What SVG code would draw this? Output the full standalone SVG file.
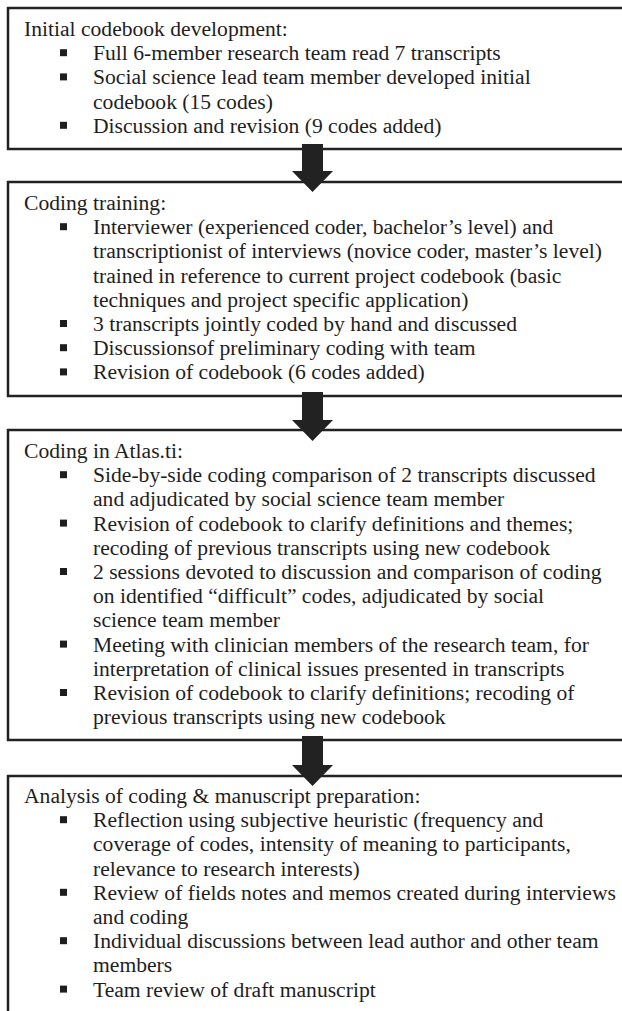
<svg xmlns="http://www.w3.org/2000/svg" width="622" height="1011" viewBox="0 0 622 1011">
<style>
.box{fill:#fff;stroke:#222;stroke-width:2.5}
.t{font-family:"Liberation Serif","Times New Roman",serif;font-size:21.6px;fill:#1e1e1e}
.b{fill:#1e1e1e}
.arr{fill:#222}
</style>
<rect width="622" height="1011" fill="#fff"/>
<defs><rect id="bl" width="7" height="7" class="b"/></defs>
<g id="n1">
<rect class="box" x="8" y="8" width="640" height="141"/>
<text class="t"><tspan x="24" y="36">Initial codebook development:</tspan><tspan x="93" y="60.2">Full 6-member research team read 7 transcripts</tspan><tspan x="93" y="84.4">Social science lead team member developed initial</tspan><tspan x="93" y="108.6">codebook (15 codes)</tspan><tspan x="93" y="132.8">Discussion and revision (9 codes added)</tspan></text>
<use href="#bl" x="60" y="49.2"/><use href="#bl" x="60" y="73.4"/><use href="#bl" x="60" y="121.8"/>
</g>
<g id="n2">
<rect class="box" x="8" y="182" width="640" height="214"/>
<text class="t"><tspan x="24" y="210">Coding training:</tspan><tspan x="93" y="234.2">Interviewer (experienced coder, bachelor’s level) and</tspan><tspan x="93" y="258.4">transcriptionist of interviews (novice coder, master’s level)</tspan><tspan x="93" y="282.6">trained in reference to current project codebook (basic</tspan><tspan x="93" y="306.8">techniques and project specific application)</tspan><tspan x="93" y="331">3 transcripts jointly coded by hand and discussed</tspan><tspan x="93" y="355.2">Discussionsof preliminary coding with team</tspan><tspan x="93" y="379.4">Revision of codebook (6 codes added)</tspan></text>
<use href="#bl" x="60" y="223.2"/><use href="#bl" x="60" y="320"/><use href="#bl" x="60" y="344.2"/><use href="#bl" x="60" y="368.4"/>
</g>
<g id="n3">
<rect class="box" x="8" y="430" width="640" height="310"/>
<text class="t"><tspan x="24" y="458">Coding in Atlas.ti:</tspan><tspan x="93" y="482.2">Side-by-side coding comparison of 2 transcripts discussed</tspan><tspan x="93" y="506.4">and adjudicated by social science team member</tspan><tspan x="93" y="530.6">Revision of codebook to clarify definitions and themes;</tspan><tspan x="93" y="554.8">recoding of previous transcripts using new codebook</tspan><tspan x="93" y="579">2 sessions devoted to discussion and comparison of coding</tspan><tspan x="93" y="603.2">on identified “difficult” codes, adjudicated by social</tspan><tspan x="93" y="627.4">science team member</tspan><tspan x="93" y="651.6">Meeting with clinician members of the research team, for</tspan><tspan x="93" y="675.8">interpretation of clinical issues presented in transcripts</tspan><tspan x="93" y="700">Revision of codebook to clarify definitions; recoding of</tspan><tspan x="93" y="724.2">previous transcripts using new codebook</tspan></text>
<use href="#bl" x="60" y="471.2"/><use href="#bl" x="60" y="519.6"/><use href="#bl" x="60" y="568"/><use href="#bl" x="60" y="640.6"/><use href="#bl" x="60" y="689"/>
</g>
<g id="n4">
<rect class="box" x="8" y="776" width="640" height="300"/>
<text class="t"><tspan x="24" y="803">Analysis of coding &amp; manuscript preparation:</tspan><tspan x="93" y="827.2">Reflection using subjective heuristic (frequency and</tspan><tspan x="93" y="851.4">coverage of codes, intensity of meaning to participants,</tspan><tspan x="93" y="875.6">relevance to research interests)</tspan><tspan x="93" y="899.8">Review of fields notes and memos created during interviews</tspan><tspan x="93" y="924">and coding</tspan><tspan x="93" y="948.2">Individual discussions between lead author and other team</tspan><tspan x="93" y="972.4">members</tspan><tspan x="93" y="996.6">Team review of draft manuscript</tspan></text>
<use href="#bl" x="60" y="816.2"/><use href="#bl" x="60" y="888.8"/><use href="#bl" x="60" y="937.2"/><use href="#bl" x="60" y="985.6"/>
</g>
<g id="connectors">
<polygon class="arr" points="302,144 323,144 323,171 333,171 312.5,192 292,171 302,171"/>
<polygon class="arr" points="302,392 323,392 323,420 333,420 312.5,441 292,420 302,420"/>
<polygon class="arr" points="302,736 323,736 323,765 333,765 312.5,786 292,765 302,765"/>
</g>
</svg>
